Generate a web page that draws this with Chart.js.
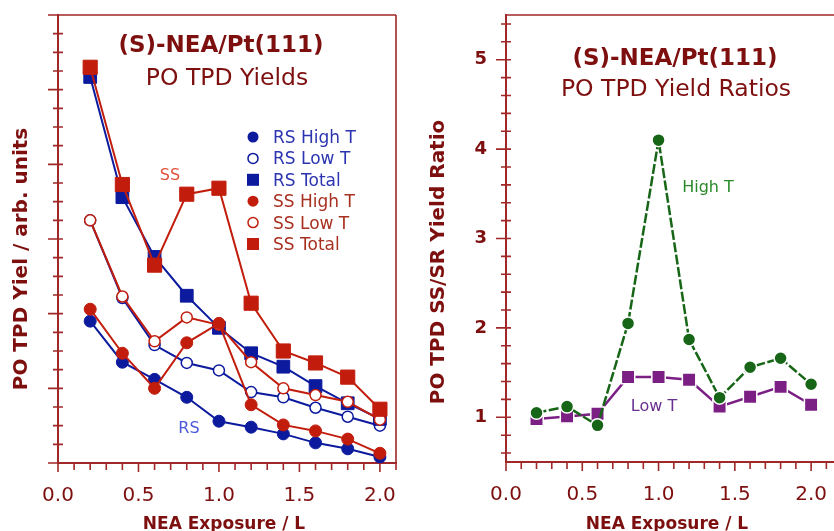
<!DOCTYPE html>
<html>
<head>
<meta charset="utf-8">
<script src="https://cdn.jsdelivr.net/npm/chart.js@4.4.1/dist/chart.umd.min.js"></script>
<style>
body { margin: 0; background: #fff; }
#wrap { position: relative; width: 834px; height: 531px; overflow: hidden; }
canvas { position: absolute; top: 0; }
#yields { left: 0; }
#ratios { left: 420px; }
</style>
</head>
<body>
<div id="wrap">
  <canvas id="yields" width="420" height="531"></canvas>
  <canvas id="ratios" width="414" height="531"></canvas>
</div>
<script>
// exposures (L), shared by both panels
var exposure = [0.2, 0.4, 0.6, 0.8, 1.0, 1.2, 1.4, 1.6, 1.8, 2.0];

// left panel: PO TPD yields (arb. units)
var rsHighT = [1.90, 1.35, 1.12, 0.88, 0.56, 0.48, 0.39, 0.27, 0.19, 0.08];
var rsLowT  = [3.25, 2.21, 1.58, 1.34, 1.24, 0.95, 0.88, 0.74, 0.62, 0.50];
var rsTotal = [5.17, 3.56, 2.76, 2.24, 1.81, 1.47, 1.29, 1.03, 0.80, 0.59];
var ssHighT = [2.06, 1.47, 1.00, 1.61, 1.87, 0.78, 0.51, 0.43, 0.32, 0.13];
var ssLowT  = [3.25, 2.23, 1.63, 1.95, 1.85, 1.35, 1.00, 0.91, 0.82, 0.58];
var ssTotal = [5.30, 3.73, 2.65, 3.60, 3.68, 2.14, 1.50, 1.34, 1.15, 0.72];

// right panel: SS/SR yield ratios
var ratioHighT = [1.05, 1.12, 0.91, 2.05, 4.10, 1.87, 1.22, 1.56, 1.66, 1.37];
var ratioLowT  = [0.98, 1.01, 1.04, 1.45, 1.45, 1.42, 1.12, 1.23, 1.34, 1.14];

var xTicks = [0, 0.5, 1.0, 1.5, 2.0];
var ratioTicks = [1, 2, 3, 4, 5];

var maroon = '#7d0f0f';
var axisCol = '#a02828';
var blue = '#0c1a9e';
var red = '#c21d0c';
var green = '#176617';
var purple = '#7b1f85';

function pts(vals) {
  return vals.map(function (v, i) { return { x: exposure[i], y: v }; });
}

function series(label, vals, col, style, radius, open, dash, halo) {
  return {
    label: label,
    data: pts(vals),
    borderColor: col,
    borderWidth: halo ? 2.5 : 2,
    borderDash: dash || [],
    pointStyle: style,
    pointRadius: radius,
    pointBorderWidth: open || halo ? 1.5 : 1,
    pointBorderColor: halo ? '#ffffff' : col,
    pointBackgroundColor: open ? '#ffffff' : col,
    tension: 0,
    clip: false
  };
}

function text(ctx, s, x, y, font, col, align, rot) {
  ctx.save();
  ctx.font = font;
  ctx.fillStyle = col;
  ctx.textAlign = align || 'center';
  ctx.textBaseline = 'alphabetic';
  ctx.translate(x, y);
  if (rot) ctx.rotate(rot);
  ctx.fillText(s, 0, 0);
  ctx.restore();
}

// tick marks and frame, drawn from the scales
var frame = {
  id: 'frame',
  afterDraw: function (chart, args, o) {
    var ctx = chart.ctx, a = chart.chartArea;
    var xs = chart.scales.x, ys = chart.scales.y;
    ctx.save();
    ctx.strokeStyle = axisCol;
    ctx.lineWidth = 1.6;
    ctx.beginPath();
    for (var i = 0; i <= 21; i++) {
      var px = xs.getPixelForValue(i / 10);
      ctx.moveTo(px, a.bottom);
      ctx.lineTo(px, a.bottom + (i % 5 === 0 ? 9 : 7));
    }
    for (var k = o.yFrom; k <= o.yTo; k++) {
      var py = ys.getPixelForValue(k * o.yStep);
      var major = k % o.yMajor === 0;
      ctx.moveTo(a.left - (major ? 10 : 5), py);
      ctx.lineTo(a.left + 5, py);
    }
    ctx.moveTo(a.left, a.top);
    ctx.lineTo(a.right, a.top);
    if (o.rightBorder) {
      ctx.moveTo(a.right, a.top);
      ctx.lineTo(a.right, a.bottom);
    }
    ctx.stroke();
    ctx.restore();
  }
};

// titles, axis titles, legend and labels
var notes = {
  id: 'notes',
  afterDraw: function (chart, args, o) {
    var ctx = chart.ctx;
    var b = 'bold ', f = 'px "DejaVu Sans"';
    text(ctx, '(S)-NEA/Pt(111)', o.titleX, o.titleY, b + '23' + f, maroon);
    text(ctx, o.sub, o.subX, o.subY, '23.5' + f, maroon);
    text(ctx, 'NEA Exposure / L', o.xTitleX, 529, b + '17' + f, maroon);
    text(ctx, o.yTitle, o.yTitleX, o.yTitleY, b + '20' + f, maroon, 'center', -Math.PI / 2);
    (o.labels || []).forEach(function (l) {
      text(ctx, l[0], l[1], l[2], '16' + f, l[3]);
    });
    (o.legend || []).forEach(function (l, i) {
      var y = 137 + i * 21.4;
      ctx.save();
      ctx.fillStyle = l[2] ? '#fff' : l[1];
      ctx.strokeStyle = l[1];
      ctx.lineWidth = 1.5;
      if (l[3] === 'rect') {
        ctx.fillRect(247, y - 6, 12, 12);
      } else {
        ctx.beginPath();
        ctx.arc(253, y, l[2] ? 5 : 5.5, 0, Math.PI * 2);
        ctx.fill();
        if (l[2]) ctx.stroke();
      }
      ctx.restore();
      text(ctx, l[0], 273, y + 6, '17' + f, l[4], 'left');
    });
  }
};

function noPad(s) {
  s.paddingTop = 0; s.paddingBottom = 0;
  s.paddingLeft = 0; s.paddingRight = 0;
}

function axes(xMax, yMin, yMax, yW, xH, yLabels) {
  return {
    x: {
      type: 'linear', min: 0, max: xMax,
      grid: { display: false, drawTicks: false },
      border: { display: true, color: axisCol, width: 2 },
      afterFit: function (s) { s.height = xH; noPad(s); },
      afterBuildTicks: function (s) { s.ticks = xTicks.map(function (v) { return { value: v }; }); },
      ticks: {
        color: maroon, padding: 21,
        font: { family: 'DejaVu Sans', size: 20 },
        callback: function (v) { return v.toFixed(1); }
      }
    },
    y: {
      type: 'linear', min: yMin, max: yMax,
      grid: { display: false, drawTicks: false },
      border: { display: true, color: axisCol, width: 2 },
      afterFit: function (s) { s.width = yW; noPad(s); },
      afterBuildTicks: function (s) { s.ticks = (yLabels || []).map(function (v) { return { value: v }; }); },
      ticks: {
        display: !!yLabels, color: maroon, padding: 19,
        font: { family: 'DejaVu Sans', size: 18, weight: 'bold' }
      }
    }
  };
}

new Chart(document.getElementById('yields'), {
  type: 'line',
  data: {
    datasets: [
      series('SS Total', ssTotal, red, 'rect', 10, false),
      series('SS High T', ssHighT, red, 'circle', 6, false),
      series('SS Low T', ssLowT, red, 'circle', 5.5, true),
      series('RS Total', rsTotal, blue, 'rect', 9, false),
      series('RS High T', rsHighT, blue, 'circle', 6, false),
      series('RS Low T', rsLowT, blue, 'circle', 5.5, true)
    ]
  },
  options: {
    responsive: false,
    animation: false,
    layout: { autoPadding: false, padding: { left: 0, top: 15, right: 24, bottom: 0 } },
    scales: axes(2.1, 0, 6, 58, 68, null),
    plugins: {
      legend: { display: false },
      tooltip: { enabled: false },
      frame: { yFrom: 0, yTo: 24, yStep: 0.25, yMajor: 4, rightBorder: true },
      notes: {
        titleX: 221, titleY: 52, sub: 'PO TPD Yields', subX: 227, subY: 85,
        xTitleX: 224, yTitle: 'PO TPD Yiel / arb. units', yTitleX: 27, yTitleY: 259,
        labels: [['SS', 170, 180, '#e0503a'], ['RS', 189, 433, '#4a5ad8']],
        legend: [
          ['RS High T', blue, false, 'circle', '#2c34b0'],
          ['RS Low T', blue, true, 'circle', '#2c34b0'],
          ['RS Total', blue, false, 'rect', '#2c34b0'],
          ['SS High T', red, false, 'circle', '#a83020'],
          ['SS Low T', red, true, 'circle', '#a83020'],
          ['SS Total', red, false, 'rect', '#a83020']
        ]
      }
    }
  },
  plugins: [frame, notes]
});

new Chart(document.getElementById('ratios'), {
  type: 'line',
  data: {
    datasets: [
      series('High T', ratioHighT, green, 'circle', 6.5, false, [10, 2.5], true),
      series('Low T', ratioLowT, purple, 'rect', 9.5, false, [], true)
    ]
  },
  options: {
    responsive: false,
    animation: false,
    layout: { autoPadding: false, padding: { left: 0, top: 15, right: 0, bottom: 0 } },
    scales: axes(2.15, 0.5, 5.5, 86, 69, ratioTicks),
    plugins: {
      legend: { display: false },
      tooltip: { enabled: false },
      frame: { yFrom: 3, yTo: 27, yStep: 0.2, yMajor: 5, rightBorder: false },
      notes: {
        titleX: 255, titleY: 65, sub: 'PO TPD Yield Ratios', subX: 256, subY: 96,
        xTitleX: 247, yTitle: 'PO TPD SS/SR Yield Ratio', yTitleX: 24, yTitleY: 262,
        labels: [['High T', 288, 192, '#2a8a2a'], ['Low T', 234, 411, '#6a3090']]
      }
    }
  },
  plugins: [frame, notes]
});
</script>
</body>
</html>
